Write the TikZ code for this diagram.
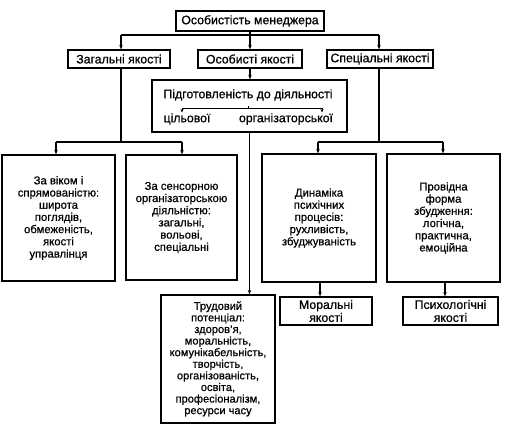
\documentclass[tikz,border=0pt]{standalone}
\usepackage{fontspec}
\setmainfont{Liberation Sans}[FakeBold=0.7]
\usetikzlibrary{arrows.meta}
\begin{document}
\begin{tikzpicture}[x=1pt,y=-1pt,
 box/.style={draw,line width=1.2pt,inner sep=1pt,align=center,font=\fontsize{11.3}{12.2}\selectfont},
 tight/.style={font=\fontsize{11.1}{11.6}\selectfont},
 big/.style={font=\fontsize{12.3}{13}\selectfont},
 plain/.style={inner sep=0pt,font=\fontsize{12.3}{13}\selectfont},
 conn/.style={line width=1.2pt},
 arr/.style={conn,-{Stealth[length=4.5pt,width=3.5pt]}},
 sarr/.style={line width=0.9pt,-{Stealth[length=3.5pt,width=3pt]}}]
\useasboundingbox (0,0) rectangle (511,431);
% boxes
\node[box,big,minimum width=148pt,minimum height=20pt] (top) at (250,21) {Особистість менеджера};
\node[box,big,minimum width=102pt,minimum height=18pt] (zag) at (119,59) {Загальні якості};
\node[box,big,minimum width=104pt,minimum height=18pt] (osob) at (250,59) {Особисті якості};
\node[box,big,minimum width=106pt,minimum height=18pt] (spec) at (380,59) {Спеціальні якості};
\node[box,minimum width=195pt,minimum height=52pt] (pid) at (249.5,106) {};
\node[plain] (pidt) at (248,95) {Підготовленість до діяльності};
\node[plain] (tsil) at (187,119) {цільової};
\node[plain] (org) at (286,119) {організаторської};
\node[box,minimum width=113pt,minimum height=126pt] (b1) at (58.5,218)
 {За віком і\\спрямованістю:\\широта\\поглядів,\\обмеженість,\\якості\\управлінця};
\node[box,minimum width=111pt,minimum height=125pt] (b2) at (181.5,217.5)
 {За сенсорною\\організаторською\\діяльністю:\\загальні,\\вольові,\\спеціальні};
\node[box,minimum width=114pt,minimum height=128pt] (b3) at (319,218)
 {Динаміка\\психічних\\процесів:\\рухливість,\\збуджуваність};
\node[box,minimum width=113pt,minimum height=128pt] (b4) at (443.5,218)
 {Провідна\\форма\\збудження:\\логічна,\\практична,\\емоційна};
\node[box,tight,minimum width=114pt,minimum height=128pt] (trud) at (218,359)
 {Трудовий\\потенціал:\\здоров'я,\\моральність,\\комунікабельність,\\творчість,\\організованість,\\освіта,\\професіоналізм,\\ресурси часу};
\node[box,big,minimum width=92pt,minimum height=28pt] (mor) at (326,311) {Моральні\\якості};
\node[box,big,minimum width=95pt,minimum height=28pt] (psy) at (450.5,311) {Психологічні\\якості};
% junction coordinates
\coordinate (j0l) at (121,35);
\coordinate (j0m) at (250,35);
\coordinate (j0r) at (379,35);
\coordinate (j1) at (121,142);
\coordinate (j1l) at (56,142);
\coordinate (j1r) at (182,142);
\coordinate (j2) at (379,142);
\coordinate (j2l) at (318,142);
\coordinate (j2r) at (443,142);
\coordinate (bl) at (182,108);
\coordinate (br) at (322,108);
\coordinate (bm) at (248,108);
% top level
\draw[conn] (top.south) -- (j0m);
\draw[conn] (j0l) -- (j0r);
\draw[arr] (j0l) -- (j0l |- zag.north);
\draw[arr] (j0m) -- (osob.north);
\draw[arr] (j0r) -- (j0r |- spec.north);
% zag branch
\draw[conn] (j1 |- zag.south) -- (j1);
\draw[conn] (j1l) -- (j1r);
\draw[arr] (j1l) -- (j1l |- b1.north);
\draw[arr] (j1r) -- (j1r |- b2.north);
% spec branch
\draw[conn] (j2 |- spec.south) -- (j2);
\draw[conn] (j2l) -- (j2r);
\draw[arr] (j2l) -- (j2l |- b3.north);
\draw[arr] (j2r) -- (j2r |- b4.north);
% osob -> pid -> trud
\draw[arr] (osob.south) -- (osob.south |- pid.north);
\draw[arr] (pid.south) -- (pid.south |- trud.north);
% bracket inside pid
\draw[line width=0.9pt] (bl) -- (br);
\draw[line width=0.9pt] (bm) -- ++(0,-2.5);
\draw[sarr] (bl) -- ++(0,4.5);
\draw[sarr] (br) -- ++(0,4.5);
% lower
\draw[arr] (320,0 |- b3.south) -- (320,0 |- mor.north);
\draw[arr] (445,0 |- b4.south) -- (445,0 |- psy.north);
\end{tikzpicture}
\end{document}
